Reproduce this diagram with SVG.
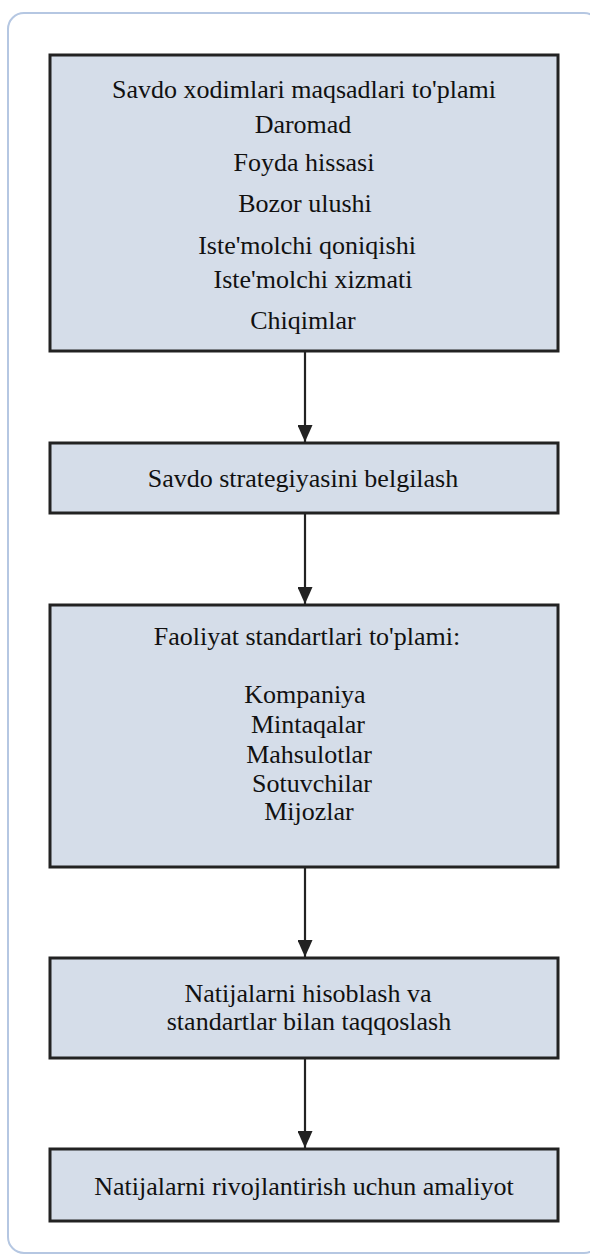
<svg xmlns="http://www.w3.org/2000/svg" width="590" height="1256" viewBox="0 0 590 1256">
<style>
.box{fill:#d5dde9;stroke:#222;stroke-width:3}
.t{font-family:"Liberation Serif","Times New Roman",serif;font-size:26px;fill:#111;text-anchor:middle}
.conn{stroke:#222;stroke-width:2.2;fill:none;marker-end:url(#ah)}
</style>
<defs>
<marker id="ah" markerUnits="userSpaceOnUse" markerWidth="17" markerHeight="15" refX="17" refY="7.5" orient="auto" viewBox="0 0 17 15">
<path d="M0,0 L17,7.5 L0,15 Z" fill="#222"/>
</marker>
</defs>
<rect x="0" y="0" width="590" height="1256" fill="#fff"/>
<rect id="frame" x="8" y="13" width="592" height="1240" rx="16" fill="none" stroke="#b5c7e2" stroke-width="2"/>
<g id="connectors">
<line class="conn" x1="305" y1="351" x2="305" y2="442"/>
<line class="conn" x1="305" y1="513" x2="305" y2="604"/>
<line class="conn" x1="305" y1="867" x2="305" y2="957"/>
<line class="conn" x1="305" y1="1058" x2="305" y2="1148"/>
</g>
<g id="n1">
<rect class="box" x="50" y="55" width="508" height="296"/>
<text class="t" x="304" y="98">Savdo xodimlari maqsadlari to'plami</text>
<text class="t" x="303" y="133">Daromad</text>
<text class="t" x="304" y="171">Foyda hissasi</text>
<text class="t" x="305" y="212">Bozor ulushi</text>
<text class="t" x="307" y="254">Iste'molchi qoniqishi</text>
<text class="t" x="313" y="288">Iste'molchi xizmati</text>
<text class="t" x="303" y="329">Chiqimlar</text>
</g>
<g id="n2">
<rect class="box" x="50" y="443" width="508" height="70"/>
<text class="t" x="303" y="487">Savdo strategiyasini belgilash</text>
</g>
<g id="n3">
<rect class="box" x="50" y="605" width="508" height="262"/>
<text class="t" x="307" y="645">Faoliyat standartlari to'plami:</text>
<text class="t" x="305" y="703">Kompaniya</text>
<text class="t" x="308" y="733">Mintaqalar</text>
<text class="t" x="309" y="763">Mahsulotlar</text>
<text class="t" x="312" y="792">Sotuvchilar</text>
<text class="t" x="309" y="820">Mijozlar</text>
</g>
<g id="n4">
<rect class="box" x="50" y="958" width="508" height="100"/>
<text class="t" x="308" y="1002">Natijalarni hisoblash va</text>
<text class="t" x="309" y="1030">standartlar bilan taqqoslash</text>
</g>
<g id="n5">
<rect class="box" x="50" y="1149" width="508" height="72"/>
<text class="t" x="304" y="1195">Natijalarni rivojlantirish uchun amaliyot</text>
</g>
</svg>
